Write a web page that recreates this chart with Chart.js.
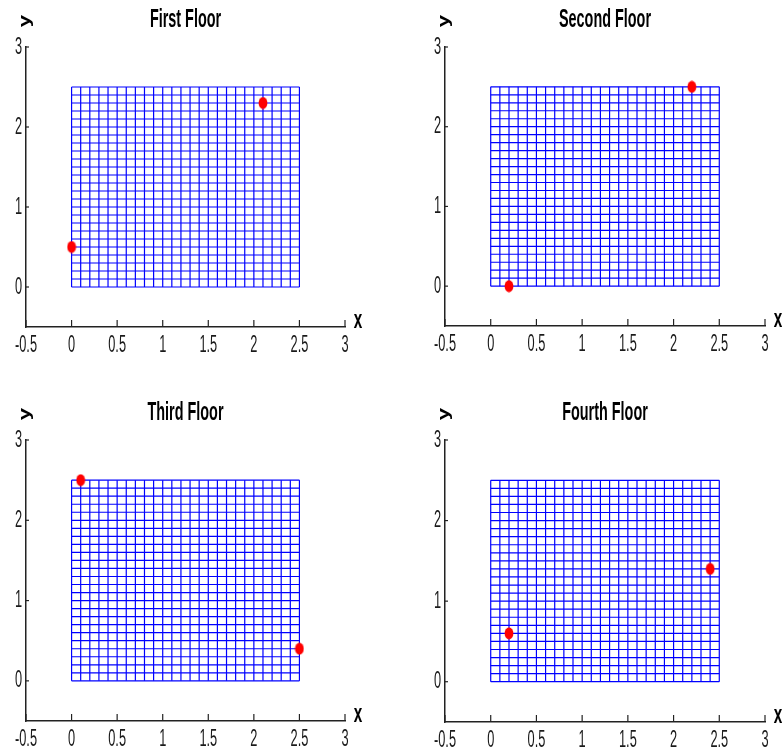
<!DOCTYPE html>
<html>
<head>
<meta charset="utf-8">
<script src="https://cdn.jsdelivr.net/npm/chart.js@4"></script>
<style>
  html, body { margin: 0; padding: 0; background: #fff; }
  #wrap { position: relative; width: 782px; height: 754px; }
  .cell { position: absolute; width: 391px; height: 377px; }
</style>
</head>
<body>
<div id="wrap">
  <div class="cell" style="left:0;top:0"><canvas id="floor1"></canvas></div>
  <div class="cell" style="left:391px;top:0"><canvas id="floor2"></canvas></div>
  <div class="cell" style="left:0;top:377px"><canvas id="floor3"></canvas></div>
  <div class="cell" style="left:391px;top:377px"><canvas id="floor4"></canvas></div>
</div>
<script>
// floor plans: 0.1 mesh over a 2.5 x 2.5 floor, two nodes per floor
var floorTitles = ['First Floor', 'Second Floor', 'Third Floor', 'Fourth Floor'];
var meshTicks = [0, 0.1, 0.2, 0.3, 0.4, 0.5, 0.6, 0.7, 0.8, 0.9, 1, 1.1, 1.2,
                 1.3, 1.4, 1.5, 1.6, 1.7, 1.8, 1.9, 2, 2.1, 2.2, 2.3, 2.4, 2.5];
var nodeX = [[0, 2.1], [0.2, 2.2], [0.1, 2.5], [0.2, 2.4]];
var nodeY = [[0.5, 2.3], [0, 2.5], [2.5, 0.4], [0.6, 1.4]];
var xTicks = [-0.5, 0, 0.5, 1, 1.5, 2, 2.5, 3];
var xTickLabels = ['-0.5', '0', '0.5', '1', '1.5', '2', '2.5', '3'];
var yTicks = [0, 1, 2, 3];
var yTickLabels = ['0', '1', '2', '3'];

// padding puts each plot area where it sits in its cell
var paddings = [
  { left: 26, right: 46, top: 47, bottom: 50 },
  { left: 54, right: 17, top: 47, bottom: 51 },
  { left: 26, right: 46, top: 63, bottom: 33 },
  { left: 54, right: 17, top: 63, bottom: 32 }
];

var FONT = '"Liberation Sans", Arial, sans-serif';

// slightly tall red marker
var dot = document.createElement('canvas');
dot.width = 10; dot.height = 13;
(function () {
  var c = dot.getContext('2d');
  c.fillStyle = '#ff0000';
  c.beginPath();
  c.ellipse(5, 6.5, 4.4, 6, 0, 0, Math.PI * 2);
  c.fill();
})();

// narrow, tall lettering
function tallText(ctx, text, x, y, font, align, sx, sy) {
  ctx.save();
  ctx.translate(x, y);
  ctx.scale(sx, sy);
  ctx.font = font;
  ctx.textAlign = align;
  ctx.textBaseline = 'middle';
  ctx.fillText(text, 0, 0);
  ctx.restore();
}

var axesPlugin = {
  id: 'floorAxes',
  afterDraw: function (chart, args, opts) {
    var ctx = chart.ctx;
    var a = chart.chartArea;
    var xs = chart.scales.x, ys = chart.scales.y;
    ctx.save();
    ctx.strokeStyle = '#222';
    ctx.lineWidth = 1.2;
    ctx.fillStyle = '#1a1a1a';
    // inward ticks
    xTicks.forEach(function (v, i) {
      var px = xs.getPixelForValue(v);
      ctx.beginPath();
      ctx.moveTo(px, a.bottom);
      ctx.lineTo(px, a.bottom - 7);
      ctx.stroke();
      tallText(ctx, xTickLabels[i], px, a.bottom + 18, '16px ' + FONT, 'center', 0.8, 1.5);
    });
    yTicks.forEach(function (v, i) {
      var py = ys.getPixelForValue(v);
      ctx.beginPath();
      ctx.moveTo(a.left, py);
      ctx.lineTo(a.left + 3, py);
      ctx.stroke();
      tallText(ctx, yTickLabels[i], a.left - 4, py, '16px ' + FONT, 'right', 0.8, 1.5);
    });
    // title
    ctx.fillStyle = '#000';
    tallText(ctx, opts.title, (a.left + a.right) / 2, a.top - 27, 'bold 18px ' + FONT, 'center', 0.8, 1.45);
    // axis names
    tallText(ctx, 'x', a.right + 13, a.bottom - 6, 'bold 18px ' + FONT, 'center', 0.85, 1.4);
    ctx.save();
    ctx.translate(a.left - 1, a.top - 26);
    ctx.scale(1, 1.3);
    ctx.rotate(-Math.PI / 2);
    ctx.font = 'bold 17px ' + FONT;
    ctx.textAlign = 'center';
    ctx.textBaseline = 'middle';
    ctx.fillText('y', 0, 0);
    ctx.restore();
    ctx.restore();
  }
};

function meshDatasets() {
  var top = meshTicks[meshTicks.length - 1];
  var sets = [];
  meshTicks.forEach(function (t) {
    sets.push({ data: [{ x: t, y: 0 }, { x: t, y: top }] });
    sets.push({ data: [{ x: 0, y: t }, { x: top, y: t }] });
  });
  return sets.map(function (s) {
    s.showLine = true;
    s.borderColor = '#0000ff';
    s.borderWidth = 1.2;
    s.pointRadius = 0;
    s.pointHoverRadius = 0;
    return s;
  });
}

for (var f = 0; f < 4; f++) {
  var nodes = nodeX[f].map(function (x, i) { return { x: x, y: nodeY[f][i] }; });
  var datasets = [{
    data: nodes,
    pointStyle: dot,
    pointRadius: 5,
    showLine: false
  }].concat(meshDatasets());

  new Chart(document.getElementById('floor' + (f + 1)), {
    type: 'scatter',
    data: { datasets: datasets },
    options: {
      responsive: true,
      maintainAspectRatio: false,
      animation: false,
      events: [],
      layout: { padding: paddings[f] },
      plugins: {
        legend: { display: false },
        tooltip: { enabled: false },
        floorAxes: { title: floorTitles[f] }
      },
      scales: {
        x: {
          type: 'linear', min: -0.5, max: 3,
          ticks: { display: false },
          grid: { drawOnChartArea: false, drawTicks: false },
          border: { color: '#222', width: 1.5 },
          afterFit: function (s) { s.height = 0; }
        },
        y: {
          type: 'linear', min: -0.5, max: 3,
          ticks: { display: false },
          grid: { drawOnChartArea: false, drawTicks: false },
          border: { color: '#222', width: 1.5 },
          afterFit: function (s) { s.width = 0; }
        }
      }
    },
    plugins: [axesPlugin]
  });
}
</script>
</body>
</html>
